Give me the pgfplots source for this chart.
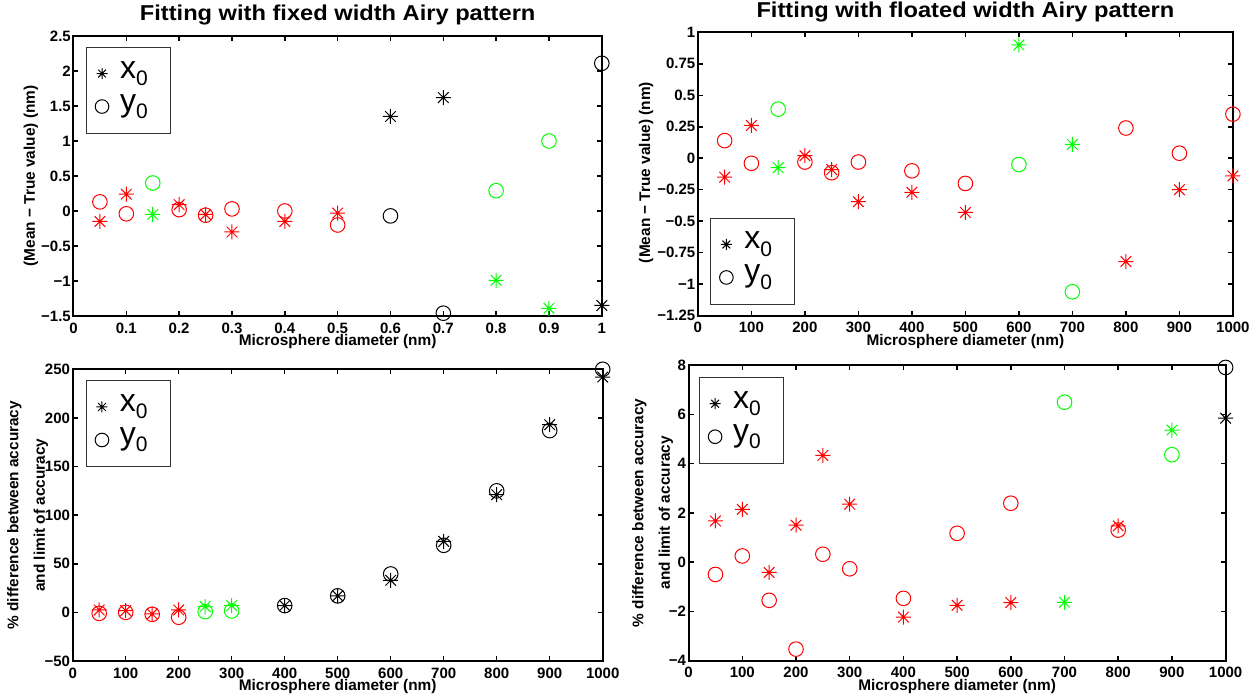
\documentclass[border=0pt]{standalone}
\usepackage{fontspec}
\setmainfont{Liberation Sans}
\newfontfamily\titlefont[FakeStretch=1.1]{Liberation Sans}
\usepackage{pgfplots}
\pgfplotsset{compat=1.18}
\definecolor{mred}{RGB}{255,0,0}
\definecolor{mgreen}{RGB}{0,255,0}

% matlab style '*' marker: plus and cross
\pgfdeclareplotmark{mstar}{%
  \pgfpathmoveto{\pgfqpoint{0pt}{\pgfplotmarksize}}%
  \pgfpathlineto{\pgfqpoint{0pt}{-\pgfplotmarksize}}%
  \pgfpathmoveto{\pgfqpoint{\pgfplotmarksize}{0pt}}%
  \pgfpathlineto{\pgfqpoint{-\pgfplotmarksize}{0pt}}%
  \pgfpathmoveto{\pgfqpoint{0.7071\pgfplotmarksize}{0.7071\pgfplotmarksize}}%
  \pgfpathlineto{\pgfqpoint{-0.7071\pgfplotmarksize}{-0.7071\pgfplotmarksize}}%
  \pgfpathmoveto{\pgfqpoint{-0.7071\pgfplotmarksize}{0.7071\pgfplotmarksize}}%
  \pgfpathlineto{\pgfqpoint{0.7071\pgfplotmarksize}{-0.7071\pgfplotmarksize}}%
  \pgfusepathqstroke}

\newcommand\sub[1]{\raisebox{-7.5pt}{\fontsize{21}{21}\selectfont#1}}

\pgfplotsset{
  mat/.style={
    scale only axis, clip=false,
    axis line style={line width=2pt},
    every tick/.style={black, line width=1.5pt},
    major tick length=5pt, tick align=inside,
    xtick pos=both, ytick pos=both,
    tick label style={font=\fontsize{15}{15}\selectfont\bfseries},
    yticklabel style={inner sep=0pt, xshift=-2.5pt},
    xticklabel style={inner sep=0pt, yshift=-6.5pt},
    label style={font=\fontsize{15.4}{22.5}\selectfont\bfseries},
    xlabel style={at={(axis description cs:0.5,0)}, anchor=base, yshift=-30pt},
    title style={font=\titlefont\fontsize{21.5}{24}\selectfont\bfseries,
      at={(axis description cs:0.5,1)}, anchor=base, yshift=9pt},
    legend style={draw=black!80, line width=0.8pt, fill=white,
      inner xsep=8pt, inner ysep=10pt, row sep=0pt, column sep=10pt,
      font=\fontsize{32}{32}\selectfont, cells={anchor=west},
      nodes={inner sep=0pt, text height=21pt, text depth=12pt}},
    legend image code/.code={\path[draw=none,fill=none] (-8pt,-8pt) rectangle (8pt,8pt);
      \draw[##1] plot coordinates {(0pt,0pt)};},
  },
  sx/.style={only marks, mark=mstar, mark size=7.5pt, line width=1pt, forget plot},
  so/.style={only marks, mark=o, mark size=7.3pt, line width=1pt, forget plot},
}

\newcommand\mylegend{%
  \addlegendimage{mark=mstar, mark size=5.5pt, line width=1pt, black}
  \addlegendentry{\makebox[42pt][l]{x\sub{0}}}
  \addlegendimage{mark=o, mark size=6.8pt, line width=1pt, black}
  \addlegendentry{\makebox[42pt][l]{y\sub{0}}}
}

\begin{document}
\begin{tikzpicture}

% top left
\begin{axis}[mat, at={(73.5pt,382pt)}, anchor=south west,
  width=528.3pt, height=280pt,
  xmin=0, xmax=1, ymin=-1.5, ymax=2.5,
  xtick={0,0.1,0.2,0.3,0.4,0.5,0.6,0.7,0.8,0.9,1},
  xticklabels={0,0.1,0.2,0.3,0.4,0.5,0.6,0.7,0.8,0.9,1},
  ytick={-1.5,-1,-0.5,0,0.5,1,1.5,2,2.5},
  yticklabels={−1.5,−1,−0.5,0,0.5,1,1.5,2,2.5},
  title={Fitting with fixed width Airy pattern},
  xlabel={Microsphere diameter (nm)},
  ylabel={(Mean − True value) (nm)},
  ylabel style={at={(axis description cs:-0.0806,0.5)}, anchor=center},
  legend style={at={(0.023,0.962)}, anchor=north west},
]
\mylegend
\addplot[sx, mred] coordinates {(0.05,-0.15)(0.1,0.24)(0.2,0.09)(0.25,-0.05)(0.3,-0.30)(0.4,-0.15)(0.5,-0.03)};
\addplot[sx, mgreen] coordinates {(0.15,-0.05)(0.8,-0.99)(0.9,-1.39)};
\addplot[sx, black] coordinates {(0.6,1.35)(0.7,1.62)(1.0,-1.35)};
\addplot[so, mred] coordinates {(0.05,0.13)(0.1,-0.04)(0.2,0.02)(0.25,-0.06)(0.3,0.03)(0.4,0.0)(0.5,-0.20)};
\addplot[so, mgreen] coordinates {(0.15,0.40)(0.8,0.29)(0.9,1.00)};
\addplot[so, black] coordinates {(0.6,-0.07)(0.7,-1.46)(1.0,2.11)};
\end{axis}

% top right
\begin{axis}[mat, at={(697.9pt,382.3pt)}, anchor=south west,
  width=535pt, height=283.4pt,
  xmin=0, xmax=1000, ymin=-1.25, ymax=1,
  xtick={0,100,...,1000},
  xticklabels={0,100,200,300,400,500,600,700,800,900,1000},
  ytick={-1.25,-1,-0.75,-0.5,-0.25,0,0.25,0.5,0.75,1},
  yticklabels={−1.25,−1,−0.75,−0.5,−0.25,0,0.25,0.5,0.75,1},
  title={Fitting with floated width Airy pattern},
  xlabel={Microsphere diameter (nm)},
  ylabel={(Mean − True value) (nm)},
  ylabel style={at={(axis description cs:-0.0966,0.505)}, anchor=center},
  legend style={at={(0.0226,0.040)}, anchor=south west},
]
\mylegend
\addplot[sx, mred] coordinates {(50,-0.15)(100,0.26)(200,0.02)(250,-0.09)(300,-0.345)(400,-0.27)(500,-0.43)(800,-0.82)(900,-0.25)(1000,-0.14)};
\addplot[sx, mgreen] coordinates {(150,-0.075)(600,0.90)(700,0.11)};
\addplot[so, mred] coordinates {(50,0.14)(100,-0.04)(200,-0.03)(250,-0.115)(300,-0.03)(400,-0.10)(500,-0.20)(800,0.24)(900,0.04)(1000,0.35)};
\addplot[so, mgreen] coordinates {(150,0.39)(600,-0.05)(700,-1.06)};
\end{axis}

% bottom left
\begin{axis}[mat, at={(72.7pt,37pt)}, anchor=south west,
  width=530pt, height=291.7pt,
  xmin=0, xmax=1000, ymin=-50, ymax=250,
  xtick={0,100,...,1000},
  xticklabels={0,100,200,300,400,500,600,700,800,900,1000},
  ytick={-50,0,50,100,150,200,250},
  yticklabels={−50,0,50,100,150,200,250},
  xlabel={Microsphere diameter (nm)},
  ylabel={\% difference between accuracy\\[4pt]and limit of accuracy},
  ylabel style={at={(axis description cs:-0.085,0.5)}, anchor=center, align=center},
  legend style={at={(0.0243,0.963)}, anchor=north west},
]
\mylegend
\addplot[sx, mred] coordinates {(50,2.5)(100,1.8)(150,-1.6)(200,2.5)};
\addplot[sx, mgreen] coordinates {(250,6)(300,7)};
\addplot[sx, black] coordinates {(400,7)(500,17)(600,33)(700,73)(800,121)(900,193)(1000,242)};
\addplot[so, mred] coordinates {(50,-1)(100,0)(150,-2)(200,-5)};
\addplot[so, mgreen] coordinates {(250,0.8)(300,1.5)};
\addplot[so, black] coordinates {(400,7)(500,17)(600,39.5)(700,69)(800,125)(900,187)(1000,250)};
\end{axis}

% bottom right
\begin{axis}[mat, at={(688.6pt,37.3pt)}, anchor=south west,
  width=537pt, height=295.7pt,
  xmin=0, xmax=1000, ymin=-4, ymax=8,
  xtick={0,100,...,1000},
  xticklabels={0,100,200,300,400,500,600,700,800,900,1000},
  ytick={-4,-2,0,2,4,6,8},
  yticklabels={−4,−2,0,2,4,6,8},
  xlabel={Microsphere diameter (nm)},
  ylabel={\% difference between accuracy\\[4pt]and limit of accuracy},
  ylabel style={at={(axis description cs:-0.0672,0.5)}, anchor=center, align=center},
  legend style={at={(0.0188,0.960)}, anchor=north west},
]
\mylegend
\addplot[sx, mred] coordinates {(50,1.67)(100,2.14)(150,-0.42)(200,1.5)(250,4.33)(300,2.35)(400,-2.23)(500,-1.75)(600,-1.64)(800,1.47)};
\addplot[sx, mgreen] coordinates {(700,-1.63)(900,5.36)};
\addplot[sx, black] coordinates {(1000,5.84)};
\addplot[so, mred] coordinates {(50,-0.5)(100,0.25)(150,-1.55)(200,-3.53)(250,0.32)(300,-0.27)(400,-1.47)(500,1.17)(600,2.39)(800,1.30)};
\addplot[so, mgreen] coordinates {(700,6.49)(900,4.36)};
\addplot[so, black] coordinates {(1000,7.9)};
\end{axis}

\pgfresetboundingbox
\useasboundingbox (0pt,0pt) rectangle (1256pt,698pt);
\end{tikzpicture}
\end{document}
